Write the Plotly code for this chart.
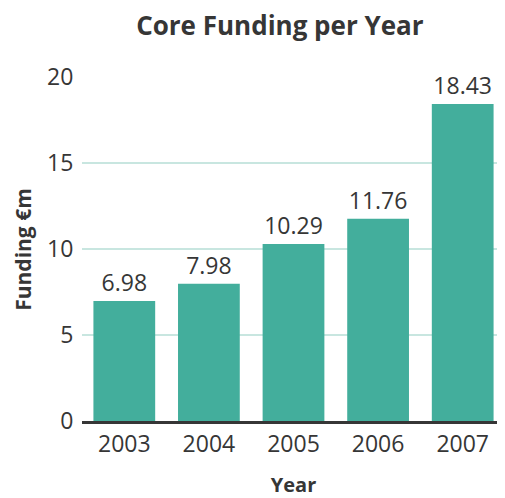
import plotly.graph_objects as go

years = ["2003", "2004", "2005", "2006", "2007"]
funding = [6.98, 7.98, 10.29, 11.76, 18.43]
y_ticks = [0, 5, 10, 15, 20]

font = "Open Sans"
dark = "#363636"
fig = go.Figure(go.Bar(
    x=years, y=funding,
    marker=dict(color="#43ae9c", line=dict(width=0)),
    text=[f"{v:.2f}" for v in funding],
    textposition="outside",
    textfont=dict(size=23, color=dark, family=font),
    cliponaxis=False,
))
fig.update_layout(
    width=497, height=490,
    margin=dict(l=74, r=0, t=69, b=77, autoexpand=False),
    paper_bgcolor="white", plot_bgcolor="white",
    bargap=0.27,
    title=dict(text="<b>Core Funding per Year</b>", x=0.547, xref="container", xanchor="center",
               y=0.963, yref="container", yanchor="middle",
               font=dict(size=26, color=dark, family=font)),
    showlegend=False,
    annotations=[dict(
        text="<b>Funding €m</b>", textangle=-90,
        xref="paper", yref="paper", x=-0.14, y=0.5,
        xanchor="center", yanchor="middle", showarrow=False,
        font=dict(size=21, color=dark, family=font),
    )],
)
fig.update_xaxes(
    automargin=False,
    tickfont=dict(size=23, color=dark, family=font),
    title=dict(text="<b>Year</b>", font=dict(size=20, color=dark, family=font), standoff=24),
    showline=True, linecolor=dark, linewidth=3,
    ticks="", showgrid=False,
)
fig.update_yaxes(
    automargin=False,
    range=[0, 20], tickvals=y_ticks,
    tickfont=dict(size=23, color=dark, family=font),
    showgrid=True, gridcolor="#c8e6e0", gridwidth=2,
    zeroline=False, ticks="outside", ticklen=3, tickcolor="rgba(0,0,0,0)",
)
fig.write_html("out.html")
